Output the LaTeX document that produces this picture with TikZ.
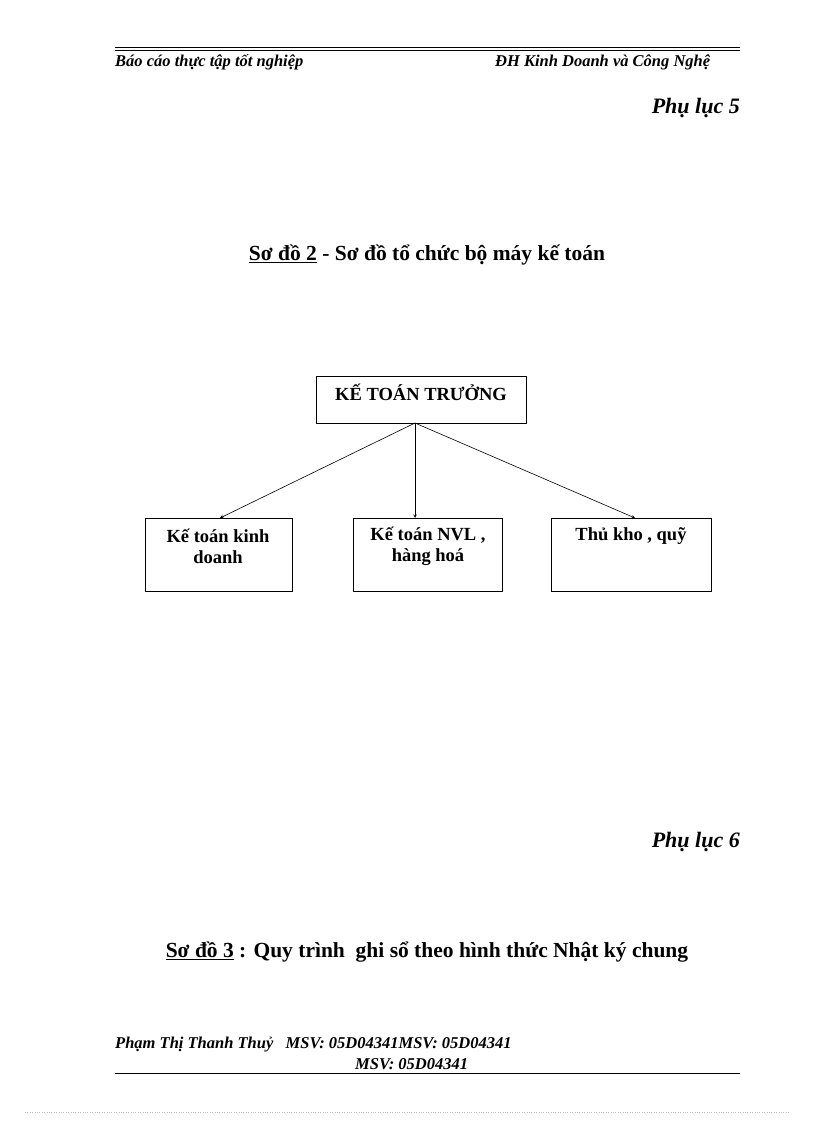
\documentclass[tikz,border=0pt]{standalone}
\usepackage{fontspec}
\setmainfont{Liberation Serif}
\begin{document}
\begin{tikzpicture}[x=1pt,y=-1pt,
  bx/.style={draw,thick,anchor=north west,inner sep=0pt},
  bt/.style={font=\bfseries\fontsize{18.5}{21}\selectfont,align=center,inner sep=0pt},
  hd/.style={anchor=west,inner sep=0pt,font=\bfseries\itshape\fontsize{16.5}{19}\selectfont},
  arr/.style={-stealth,line width=0.6pt}]
\useasboundingbox (0,0) rectangle (816,1123);
\draw[line width=0.5pt] (115,47) -- (740,47);
\draw[line width=1.2pt] (115,50.5) -- (740,50.5);
\node[hd] (h1) at (115,62) {Báo cáo thực tập tốt nghiệp};
\node[hd] (h2) at (495,62) {ĐH Kinh Doanh và Công Nghệ};
\node[anchor=east,inner sep=0pt,font=\bfseries\itshape\fontsize{22}{25}\selectfont] (p5) at (740,108) {Phụ lục 5};
\node[inner sep=0pt,font=\bfseries\fontsize{21.5}{25}\selectfont] (t2) at (427,255) {\underline{Sơ đồ 2} - Sơ đồ tổ chức bộ máy kế toán};
\node[bx,minimum width=210,minimum height=47] (top) at (316,376) {};
\node[bt] at (421,392) {KẾ TOÁN TRƯỞNG};
\node[bx,minimum width=147,minimum height=73] (b1) at (145,518) {};
\node[bx,minimum width=149,minimum height=73] (b2) at (353,518) {};
\node[bx,minimum width=160,minimum height=73] (b3) at (551,518) {};
\node[bt] at (218,546) {Kế toán kinh\\doanh};
\node[bt] at (428,546) {Kế toán NVL ,\\hàng hoá};
\node[bt] at (631,536) {Thủ kho , quỹ};
\coordinate (o) at (415,423);
\draw[arr] (o) -- (220,518);
\draw[arr] (o) -- (415,518);
\draw[arr] (o) -- (635,518);
\node[anchor=east,inner sep=0pt,font=\bfseries\itshape\fontsize{22}{25}\selectfont] (p6) at (740,842) {Phụ lục 6};
\node[inner sep=0pt,font=\bfseries\fontsize{21.5}{25}\selectfont] (t3) at (427,952) {\underline{Sơ đồ 3} : Quy trình\ \ ghi sổ theo hình thức Nhật ký chung};
\node[hd] (f1) at (115,1045) {Phạm Thị Thanh Thuỷ\ \ \ MSV: 05D04341MSV: 05D04341};
\node[hd] (f2) at (355,1064) {MSV: 05D04341};
\draw[line width=1pt] (115,1073) -- (740,1073);
\draw[gray!50,dotted] (25,1112) -- (790,1112);
\end{tikzpicture}
\end{document}
